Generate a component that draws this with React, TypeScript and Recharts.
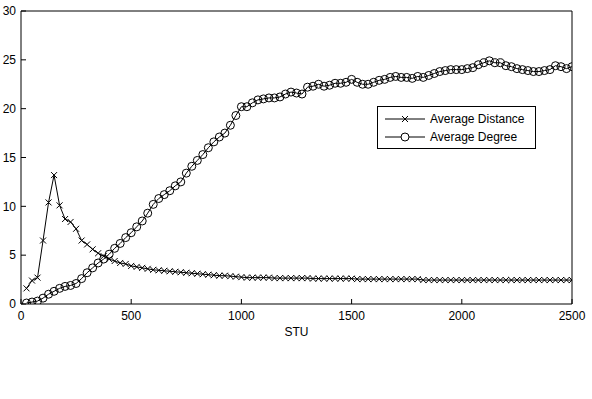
import { LineChart, Line, XAxis, YAxis, Legend } from "recharts";

// sample points, one every 25 STU
const STU = Array.from({ length: 100 }, (_, i) => (i + 1) * 25);

const AVG_DISTANCE = [
  1.6, 2.4, 2.7, 6.5, 10.4, 13.2, 10.1, 8.7, 8.4, 7.7,
  6.5, 6.1, 5.6, 5.2, 4.9, 4.6, 4.4, 4.2, 4.1, 3.9,
  3.8, 3.7, 3.6, 3.5, 3.45, 3.4, 3.35, 3.3, 3.25, 3.2,
  3.15, 3.1, 3.05, 3.0, 2.95, 2.9, 2.9, 2.85, 2.8, 2.75,
  2.7, 2.7, 2.7, 2.7, 2.7, 2.65, 2.65, 2.65, 2.65, 2.65,
  2.65, 2.65, 2.6, 2.6, 2.6, 2.6, 2.6, 2.6, 2.6, 2.6,
  2.55, 2.55, 2.55, 2.55, 2.55, 2.55, 2.55, 2.55, 2.55, 2.55,
  2.55, 2.55, 2.45, 2.45, 2.45, 2.45, 2.45, 2.45, 2.45, 2.45,
  2.45, 2.45, 2.45, 2.45, 2.45, 2.45, 2.45, 2.45, 2.45, 2.45,
  2.45, 2.45, 2.45, 2.45, 2.45, 2.45, 2.45, 2.45, 2.45, 2.45,
];

const AVG_DEGREE = [
  0.1, 0.2, 0.3, 0.6, 1.0, 1.3, 1.6, 1.8, 1.9, 2.1,
  2.6, 3.2, 3.7, 4.2, 4.6, 5.1, 5.7, 6.2, 6.8, 7.3,
  7.9, 8.5, 9.3, 10.2, 10.8, 11.2, 11.6, 12.1, 12.5, 13.4,
  14.1, 14.7, 15.3, 16.0, 16.6, 17.1, 17.5, 18.3, 19.3, 20.2,
  20.2, 20.6, 20.9, 21.0, 21.1, 21.1, 21.2, 21.5, 21.7, 21.6,
  21.5, 22.2, 22.3, 22.5, 22.3, 22.4, 22.6, 22.6, 22.7, 23.0,
  22.7, 22.5, 22.5, 22.7, 22.9, 23.0, 23.2, 23.3, 23.2, 23.2,
  23.1, 23.3, 23.2, 23.4, 23.6, 23.8, 23.9, 24.0, 24.0, 24.0,
  24.1, 24.2, 24.5, 24.7, 24.9, 24.7, 24.7, 24.4, 24.3, 24.1,
  24.0, 23.9, 23.8, 23.8, 23.9, 24.0, 24.4, 24.3, 24.1, 24.3,
];

const X_TICKS = [0, 500, 1000, 1500, 2000, 2500];
const Y_TICKS = [0, 5, 10, 15, 20, 25, 30];

const data = STU.map((s, i) => ({
  stu: s,
  distance: AVG_DISTANCE[i],
  degree: AVG_DEGREE[i],
}));

const FONT = "'Liberation Sans', Arial, sans-serif";
const tickStyle = { fontSize: 12, fill: "#000", fontFamily: FONT };

function CrossDot(props: any) {
  const { cx, cy } = props;
  if (cx == null || cy == null) return null;
  return (
    <g>
      <line x1={cx - 3} y1={cy - 3} x2={cx + 3} y2={cy + 3} stroke="#000" strokeWidth={1} />
      <line x1={cx - 3} y1={cy + 3} x2={cx + 3} y2={cy - 3} stroke="#000" strokeWidth={1} />
    </g>
  );
}

function CircleDot(props: any) {
  const { cx, cy } = props;
  if (cx == null || cy == null) return null;
  return <circle cx={cx} cy={cy} r={4} fill="none" stroke="#000" strokeWidth={1} />;
}

function LegendBox() {
  const rows = [
    { label: "Average Distance", marker: "x" },
    { label: "Average Degree", marker: "o" },
  ];
  return (
    <div
      style={{
        border: "1px solid #000",
        background: "#fff",
        width: 157,
        height: 41,
        boxSizing: "content-box",
        fontFamily: FONT,
        fontSize: 12,
        color: "#000",
      }}
    >
      {rows.map((r, i) => (
        <div key={r.label} style={{ display: "flex", alignItems: "center", height: 18, marginTop: i === 0 ? 3 : 0 }}>
          <svg width={52} height={18} style={{ display: "block" }}>
            <line x1={7} y1={9} x2={47} y2={9} stroke="#000" strokeWidth={1} />
            {r.marker === "x" ? (
              <g>
                <line x1={24} y1={6} x2={30} y2={12} stroke="#000" />
                <line x1={24} y1={12} x2={30} y2={6} stroke="#000" />
              </g>
            ) : (
              <circle cx={27} cy={9} r={4} fill="#fff" stroke="#000" />
            )}
          </svg>
          <span style={{ lineHeight: "18px" }}>{r.label}</span>
        </div>
      ))}
    </div>
  );
}

export default function App() {
  return (
    <div style={{ position: "absolute", left: 0, top: 0, width: 592, height: 399, background: "#fff" }}>
      <LineChart
        width={592}
        height={399}
        data={data}
        margin={{ top: 10, right: 19, bottom: 65, left: 0 }}
        style={{ fontFamily: FONT }}
      >
        <XAxis
          xAxisId="bottom"
          dataKey="stu"
          type="number"
          domain={[0, 2500]}
          ticks={X_TICKS}
          allowDataOverflow
          height={30}
          stroke="#000"
          tickSize={-5}
          tickMargin={12}
          tick={tickStyle}
          label={{ value: "STU", position: "insideBottom", offset: -2, fill: "#000", fontSize: 12, fontFamily: FONT }}
        />
        <XAxis
          xAxisId="top"
          orientation="top"
          dataKey="stu"
          type="number"
          domain={[0, 2500]}
          ticks={X_TICKS}
          allowDataOverflow
          height={1}
          stroke="#000"
          tickSize={-5}
          tick={false}
        />
        <YAxis
          yAxisId="left"
          type="number"
          domain={[0, 30]}
          ticks={Y_TICKS}
          allowDataOverflow
          width={21}
          stroke="#000"
          tickSize={-5}
          tickMargin={10}
          tick={tickStyle}
        />
        <YAxis
          yAxisId="right"
          orientation="right"
          type="number"
          domain={[0, 30]}
          ticks={Y_TICKS}
          allowDataOverflow
          width={1}
          stroke="#000"
          tickSize={-5}
          tick={false}
        />
        <Legend
          layout="horizontal"
          verticalAlign="middle"
          align="center"
          wrapperStyle={{ left: 377, top: 106, width: 159, height: 43 }}
          content={() => <LegendBox />}
        />
        <Line
          xAxisId="bottom"
          yAxisId="left"
          type="linear"
          dataKey="distance"
          name="Average Distance"
          stroke="#000"
          strokeWidth={1}
          dot={CrossDot}
          activeDot={false}
          isAnimationActive={false}
        />
        <Line
          xAxisId="bottom"
          yAxisId="left"
          type="linear"
          dataKey="degree"
          name="Average Degree"
          stroke="#000"
          strokeWidth={1}
          dot={CircleDot}
          activeDot={false}
          isAnimationActive={false}
        />
      </LineChart>
    </div>
  );
}
